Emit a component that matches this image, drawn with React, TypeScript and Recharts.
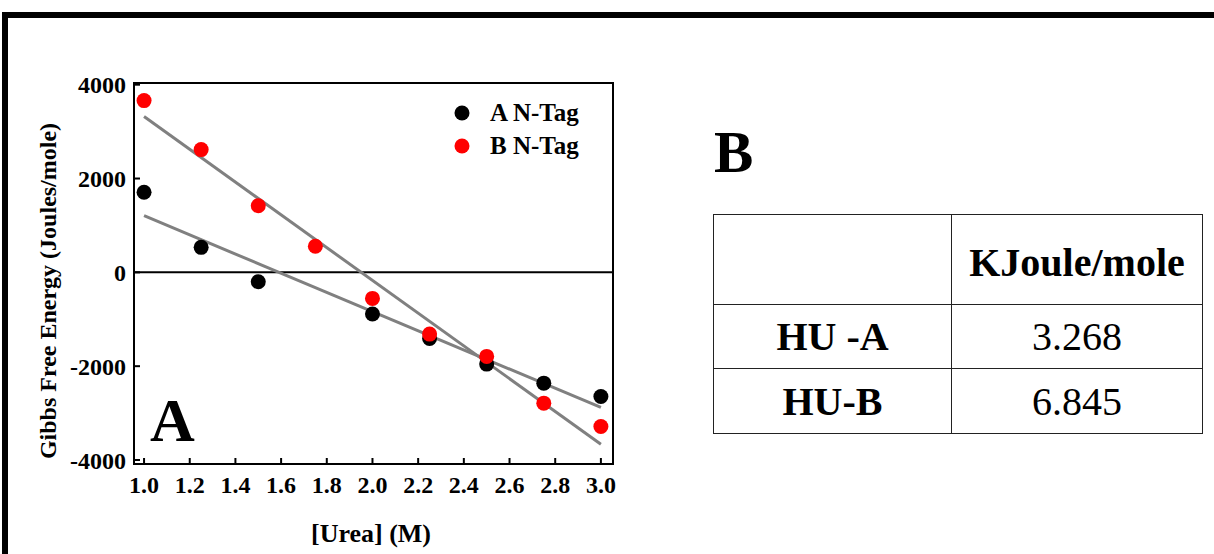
import React from 'react';
import { ComposedChart, Scatter, XAxis, YAxis, ReferenceLine, ReferenceArea, Legend } from 'recharts';

// urea concentration (M) and Gibbs free energy (J/mol)
const urea = [1.0, 1.25, 1.5, 1.75, 2.0, 2.25, 2.5, 2.75, 3.0];
const tagA: (number | null)[] = [1707, 533, -199, null, -889, -1408, -1956, -2362, -2645];
const tagB = [3661, 2616, 1421, 555, -555, -1316, -1792, -2788, -3285];

// linear fits, end points
const fitX = [1.0, 3.0];
const fitA = [1207, -2880];
const fitB = [3320, -3663];

const xTicks = [1.0, 1.2, 1.4, 1.6, 1.8, 2.0, 2.2, 2.4, 2.6, 2.8, 3.0];
const yTicks = [-4000, -2000, 0, 2000, 4000];
const xDomain: [number, number] = [0.956, 3.053];
const yDomain: [number, number] = [-4085, 4036];

const tableHeader = 'KJoule/mole';
const tableRows = ['HU -A', 'HU-B'];
const tableValues = ['3.268', '6.845'];

const FONT = '"Liberation Serif", "Times New Roman", serif';

const dataA = urea
  .map((x, i) => ({ x, y: tagA[i] }))
  .filter((d) => d.y !== null);
const dataB = urea.map((x, i) => ({ x, y: tagB[i] }));

const dot = (color: string) => (props: any) => {
  const { cx, cy } = props;
  if (cx == null || cy == null) return <g />;
  return <circle cx={cx} cy={cy} r={7.5} fill={color} />;
};

const LegendBox = () => (
  <svg width={170} height={70} style={{ display: 'block' }}>
    {[
      { name: 'A N-Tag', color: '#000000' },
      { name: 'B N-Tag', color: '#ff0000' },
    ].map((e, i) => (
      <g key={e.name}>
        <circle cx={12} cy={17 + i * 33} r={7.5} fill={e.color} />
        <text x={40} y={25 + i * 33} fontFamily={FONT} fontWeight="bold" fontSize={25} fill="#000">
          {e.name}
        </text>
      </g>
    ))}
  </svg>
);

const tickStyle = { fill: '#000', fontSize: 24, fontWeight: 'bold', fontFamily: FONT };

const App = () => {
  const cell: React.CSSProperties = {
    border: '1.5px solid #222',
    textAlign: 'center',
    verticalAlign: 'middle',
    padding: 0,
  };
  return (
    <div
      style={{
        position: 'fixed',
        left: 0,
        top: 0,
        width: 1214,
        height: 554,
        background: '#fff',
        overflow: 'hidden',
      }}
    >
      {/* outer frame */}
      <div
        style={{
          position: 'absolute',
          left: 2,
          top: 12,
          width: 1230,
          height: 600,
          borderTop: '6px solid #000',
          borderLeft: '6px solid #000',
          boxSizing: 'border-box',
        }}
      />

      <div style={{ position: 'absolute', left: 0, top: 0 }}>
        <ComposedChart
          width={640}
          height={554}
          margin={{ top: 83, right: 27, bottom: 40, left: 0 }}
        >
          <XAxis
            dataKey="x"
            type="number"
            domain={xDomain}
            ticks={xTicks}
            tickFormatter={(v: number) => v.toFixed(1)}
            axisLine={{ stroke: '#000', strokeWidth: 2 }}
            tickLine={{ stroke: '#000', strokeWidth: 2 }}
            tickSize={-6}
            tickMargin={18}
            tick={tickStyle}
            height={50}
            allowDataOverflow
            interval={0}
            label={{
              content: () => (
                <text x={371} y={542} textAnchor="middle" fontFamily={FONT} fontWeight="bold" fontSize={26} fill="#000">
                  [Urea] (M)
                </text>
              ),
            }}
          />
          <YAxis
            dataKey="y"
            type="number"
            domain={yDomain}
            ticks={yTicks}
            axisLine={{ stroke: '#000', strokeWidth: 2 }}
            tickLine={{ stroke: '#000', strokeWidth: 2 }}
            tickSize={-6}
            tickMargin={14}
            tick={tickStyle}
            width={134}
            allowDataOverflow
            interval={0}
            label={{
              content: () => (
                <text
                  transform="translate(56,291) rotate(-90)"
                  textAnchor="middle"
                  fontFamily={FONT}
                  fontWeight="bold"
                  fontSize={24}
                  fill="#000"
                >
                  Gibbs Free Energy (Joules/mole)
                </text>
              ),
            }}
          />
          <ReferenceArea
            x1={xDomain[0]}
            x2={xDomain[1]}
            y1={yDomain[0]}
            y2={yDomain[1]}
            fill="none"
            fillOpacity={0}
            stroke="#000"
            strokeWidth={2}
          />
          <ReferenceLine y={0} stroke="#000" strokeWidth={2} />
          <Scatter name="A N-Tag" data={dataA} fill="#000" shape={dot('#000000')} isAnimationActive={false} />
          <Scatter name="B N-Tag" data={dataB} fill="#ff0000" shape={dot('#ff0000')} isAnimationActive={false} />
          <ReferenceLine
            segment={[
              { x: fitX[0], y: fitA[0] },
              { x: fitX[1], y: fitA[1] },
            ]}
            stroke="#808080"
            strokeWidth={3}
          />
          <ReferenceLine
            segment={[
              { x: fitX[0], y: fitB[0] },
              { x: fitX[1], y: fitB[1] },
            ]}
            stroke="#808080"
            strokeWidth={3}
          />
          <Legend
            layout="vertical"
            align="center"
            verticalAlign="middle"
            content={() => <LegendBox />}
            wrapperStyle={{ left: 450, top: 96, width: 170 }}
          />
        </ComposedChart>
      </div>

      {/* panel letters */}
      <svg width={1214} height={554} style={{ position: 'absolute', left: 0, top: 0, pointerEvents: 'none' }}>
        <text x={150} y={441} fontFamily={FONT} fontWeight="bold" fontSize={62} fill="#000">
          A
        </text>
        <text x={714} y={172} fontFamily={FONT} fontWeight="bold" fontSize={59} fill="#000">
          B
        </text>
      </svg>

      <table
        style={{
          position: 'absolute',
          left: 713,
          top: 214,
          width: 490,
          borderCollapse: 'collapse',
          fontFamily: FONT,
          fontSize: 40,
          color: '#000',
        }}
      >
        <tbody>
          <tr style={{ height: 90 }}>
            <td style={{ ...cell, width: 237 }} />
            <td style={{ ...cell, fontWeight: 'bold', paddingTop: 6 }}>{tableHeader}</td>
          </tr>
          {tableRows.map((r, i) => (
            <tr key={r} style={{ height: i === 0 ? 64 : 65 }}>
              <td style={{ ...cell, fontWeight: 'bold' }}>{r}</td>
              <td style={cell}>{tableValues[i]}</td>
            </tr>
          ))}
        </tbody>
      </table>
    </div>
  );
};

export default App;
